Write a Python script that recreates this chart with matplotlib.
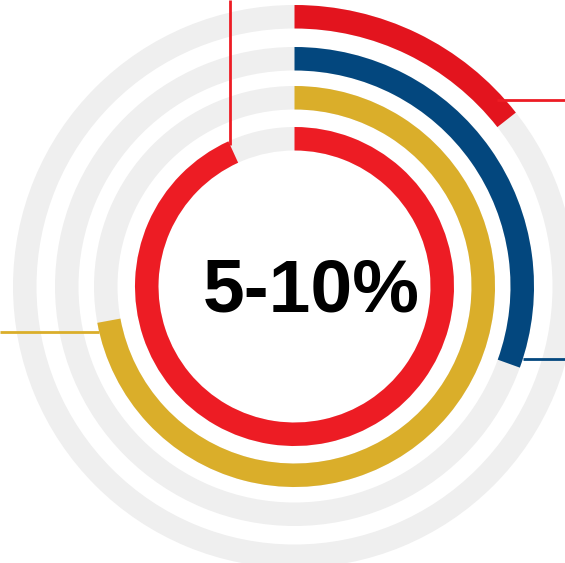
import numpy as np
import matplotlib
matplotlib.use("Agg")
import matplotlib.pyplot as plt
from matplotlib.patches import Wedge

# ---- data (percent of full circle, clockwise from 12 o'clock) ----
rings = ["outer", "second", "third", "inner"]
values = [14.4, 30.5, 72.1, 93.2]
center_label = "5-10%"

# ---- style ----
colors = ["#E3141E", "#03477E", "#DAAE2A", "#ED1C24"]
leader_colors = ["#ED1C24", "#03477E", "#DAAE2A", "#ED1C24"]
outer_radii = [281.5, 239.5, 200.5, 159.5]
ring_width = 23.5
grey = "#EFEFEF"
W, H = 565, 563
cx, cy = 294.5, H - 286.5

fig = plt.figure(figsize=(W / 100, H / 100), dpi=100)
ax = fig.add_axes([0, 0, 1, 1])
ax.set_xlim(0, W)
ax.set_ylim(0, H)
ax.set_aspect("equal")
ax.axis("off")

for r, c, v in zip(outer_radii, colors, values):
    ax.add_patch(Wedge((cx, cy), r, 0, 360, width=ring_width, color=grey, lw=0))
    ax.add_patch(Wedge((cx, cy), r, 90 - 360 * v / 100, 90, width=ring_width,
                       color=c, lw=0))

def pt(r, frac_deg):
    a = np.deg2rad(90 - frac_deg)
    return cx + r * np.cos(a), cy + r * np.sin(a)

# leader lines
# ring 0: horizontal to right edge, from inside the arc
ang0 = 360 * values[0] / 100 - 4.4
x0, y0 = pt(outer_radii[0] - 6, ang0)
ax.plot([x0, W], [y0, y0], color=leader_colors[0], lw=2, solid_capstyle="butt")
# ring 1: horizontal to right edge from outer edge
ang1 = 360 * values[1] / 100 - 2.2
x1, y1 = pt(outer_radii[1], ang1)
ax.plot([x1, W], [y1, y1], color=leader_colors[1], lw=2, solid_capstyle="butt")
# ring 2: horizontal to left edge from outer edge
ang2 = 360 * values[2] / 100 - 2.8
x2, y2 = pt(outer_radii[2], ang2)
ax.plot([0, x2], [y2, y2], color=leader_colors[2], lw=2, solid_capstyle="butt")
# ring 3: vertical up to top from the arc end
ang3 = 360 * values[3] / 100
x3, y3 = pt(outer_radii[3] - 4, ang3)
ax.plot([x3, x3], [y3, H], color=leader_colors[3], lw=2, solid_capstyle="butt")

ax.text(cx + 16.5, H - 311, center_label, ha="center", va="baseline",
        fontsize=54, fontweight="bold", family=["Liberation Sans", "DejaVu Sans"],
        color="black")

fig.savefig("out.png", dpi=100)
